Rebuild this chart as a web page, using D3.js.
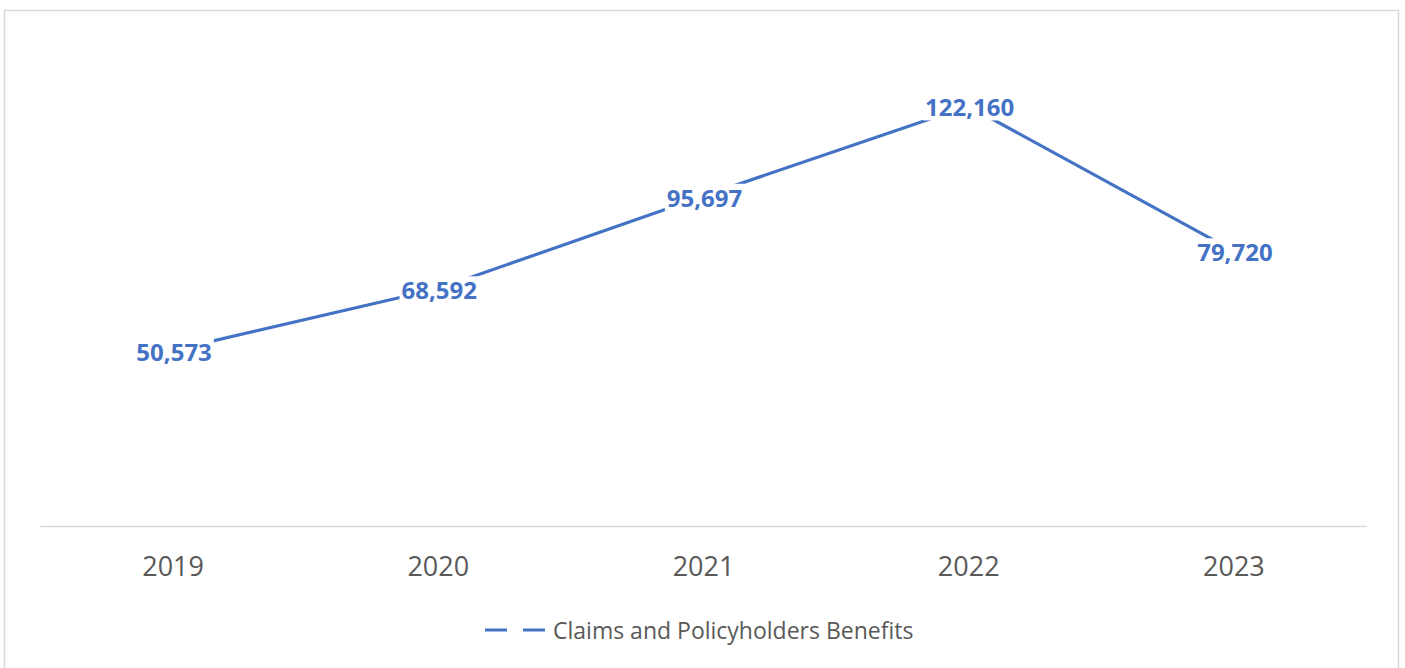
<!DOCTYPE html>
<html>
<head>
<meta charset="utf-8">
<script src="https://cdn.jsdelivr.net/npm/d3@7"></script>
<style>
  html, body { margin: 0; padding: 0; background: #fff; }
  svg { display: block; }
</style>
</head>
<body>
<svg id="chart" width="1405" height="668"></svg>
<script>
// Chart data
const years = ["2019", "2020", "2021", "2022", "2023"];
const claims = [50573, 68592, 95697, 122160, 79720];
const seriesName = "Claims and Policyholders Benefits";

const W = 1405, H = 668;
const plot = { left: 40, right: 1366, top: 45, bottom: 523, axis: 526 };
const blue = "#4472c4";
const grey = "#595959";
const rule = "#d9d9d9";

const svg = d3.select("#chart");

// outer chart frame (bottom edge runs off the page)
svg.append("rect")
  .attr("x", 4.5).attr("y", 10.5)
  .attr("width", 1394).attr("height", 720)
  .attr("fill", "#fff")
  .attr("stroke", rule).attr("stroke-width", 1.5);

const x = d3.scalePoint()
  .domain(years)
  .range([plot.left, plot.right])
  .padding(0.5);

const y = d3.scaleLinear()
  .domain([0, 140000])
  .range([plot.bottom, plot.top]);

// category axis
const xAxis = d3.axisBottom(x).tickSize(0).tickPadding(0);
const gx = svg.append("g")
  .attr("transform", `translate(0,${plot.axis})`)
  .call(xAxis);
gx.select(".domain").attr("stroke", rule).attr("stroke-width", 1.5);
gx.selectAll(".tick text")
  .attr("fill", grey)
  .attr("font-family", "'Open Sans', sans-serif")
  .attr("font-size", 27)
  .attr("dy", null)
  .attr("y", 50);

// series line
const line = d3.line()
  .x((d, i) => x(years[i]))
  .y(d => y(d));

svg.append("path")
  .datum(claims)
  .attr("fill", "none")
  .attr("stroke", blue)
  .attr("stroke-width", 3.2)
  .attr("stroke-linejoin", "round")
  .attr("d", line);

// data labels on white boxes centred on each point
const fmt = d3.format(",");
const labels = svg.append("g");
claims.forEach((v, i) => {
  const g = labels.append("g")
    .attr("transform", `translate(${x(years[i]) + 1.5},${y(v) + 1})`);
  const bg = g.append("rect").attr("fill", "#fff");
  const t = g.append("text")
    .attr("text-anchor", "middle")
    .attr("dominant-baseline", "central")
    .attr("font-family", "'Open Sans', sans-serif")
    .attr("font-weight", "bold")
    .attr("font-size", 24)
    .attr("fill", blue)
    .text(fmt(v));
  const b = t.node().getBBox();
  bg.attr("x", b.x - 2).attr("y", b.y + 3)
    .attr("width", b.width + 4).attr("height", b.height - 6);
});

// legend
const legend = svg.append("g").attr("transform", "translate(485,630)");
legend.append("line")
  .attr("x1", 0).attr("x2", 62)
  .attr("stroke", blue).attr("stroke-width", 3.2)
  .attr("stroke-dasharray", "22,16");
legend.append("text")
  .attr("x", 68)
  .attr("dominant-baseline", "central")
  .attr("font-family", "'Open Sans', sans-serif")
  .attr("font-size", 23)
  .attr("fill", grey)
  .text(seriesName);
</script>
</body>
</html>
